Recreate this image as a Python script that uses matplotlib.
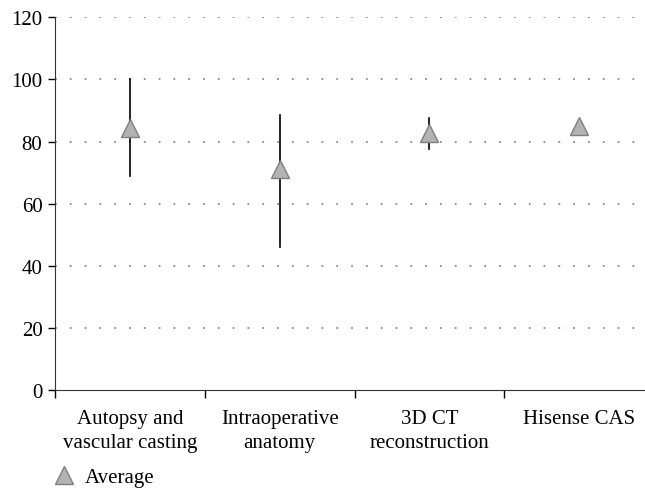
import matplotlib
matplotlib.use("Agg")
import matplotlib.pyplot as plt
import numpy as np

categories = ["Autopsy and\nvascular casting", "Intraoperative\nanatomy",
              "3D CT\nreconstruction", "Hisense CAS"]
average = [84.5, 71.3, 82.8, 84.9]
upper = [100.0, 88.5, 87.7, np.nan]
lower = [69.0, 46.2, 77.5, np.nan]
yticks = [0, 20, 40, 60, 80, 100, 120]

plt.rcParams['font.family'] = ['Liberation Serif', 'DejaVu Serif']

fig = plt.figure(figsize=(6.45, 4.89), dpi=100)
ax = fig.add_axes([55/645, 1 - 391/489, (654 - 55)/645, (391 - 18.3)/489])

x = np.arange(len(categories)) + 0.5
for xi, lo, hi in zip(x, lower, upper):
    if not np.isnan(lo):
        ax.plot([xi, xi], [lo, hi], color='black', lw=1.2, zorder=2)

ax.plot(x, average, linestyle='none', marker='^', ms=13, mfc='#b3b3b3',
        mec='#7f7f7f', mew=1.0, zorder=3, label='Average')

ax.set_xlim(0, 4)
ax.set_ylim(0, 120)
ax.set_yticks(yticks)
ax.set_xticks([0, 1, 2, 3, 4])
ax.set_xticklabels([])
ax.set_xticks(x, minor=True)
ax.set_xticklabels(categories, minor=True, fontsize=15)
ax.tick_params(axis='x', which='minor', length=0, pad=14)
ax.tick_params(axis='x', which='major', length=6, width=1, direction='out')
ax.tick_params(axis='y', length=5, width=1, direction='out', labelsize=15, pad=4)
for t in ax.get_xticklabels(minor=True):
    t.set_linespacing(1.3)

for v in yticks[1:]:
    ax.axhline(v, color='#8a8a8a', lw=1.3, linestyle=(0, (1, 7.2)), zorder=1)

for s in ['top', 'right']:
    ax.spines[s].set_visible(False)
ax.spines['left'].set_color('#333333')
ax.spines['bottom'].set_color('#333333')

handles, labels = ax.get_legend_handles_labels()
fig.legend(handles, labels, loc='lower left', bbox_to_anchor=(54/645, 1/489),
           frameon=False, fontsize=15, handletextpad=0.5, handlelength=1.0,
           borderaxespad=0, borderpad=0)

fig.savefig("out.png", dpi=100)
